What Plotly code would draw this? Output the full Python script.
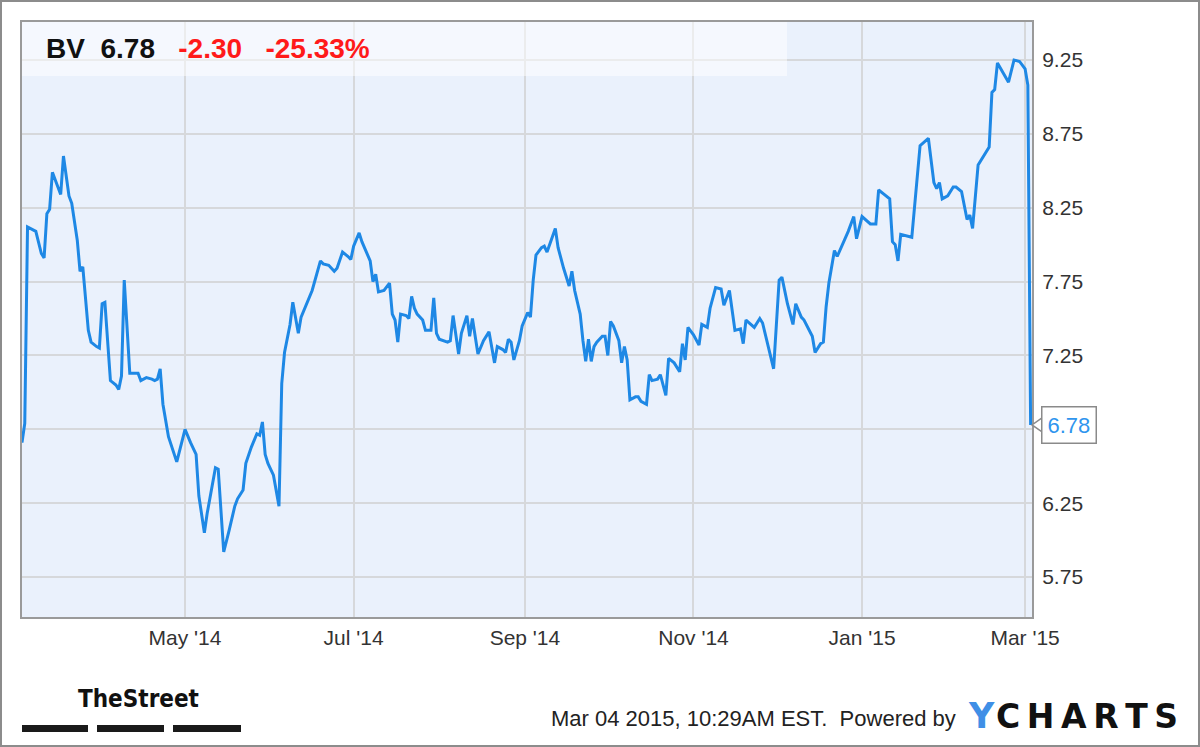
import plotly.graph_objects as go

# BV daily close (Mar 2014 - Mar 2015)
dates = [
    "2014-03-03", "2014-03-04", "2014-03-05", "2014-03-07", "2014-03-08", "2014-03-10", "2014-03-11",
    "2014-03-12", "2014-03-13", "2014-03-14", "2014-03-16", "2014-03-17", "2014-03-18", "2014-03-20",
    "2014-03-21", "2014-03-23", "2014-03-24", "2014-03-25", "2014-03-27", "2014-03-28", "2014-03-30",
    "2014-03-31", "2014-04-01", "2014-04-02", "2014-04-04", "2014-04-06", "2014-04-07", "2014-04-08",
    "2014-04-09", "2014-04-11", "2014-04-12", "2014-04-14", "2014-04-15", "2014-04-17", "2014-04-19",
    "2014-04-20", "2014-04-21", "2014-04-22", "2014-04-23", "2014-04-25", "2014-04-28", "2014-04-30",
    "2014-05-01", "2014-05-03", "2014-05-05", "2014-05-06", "2014-05-08", "2014-05-09", "2014-05-12",
    "2014-05-13", "2014-05-14", "2014-05-15", "2014-05-17", "2014-05-19", "2014-05-20", "2014-05-22",
    "2014-05-23", "2014-05-25", "2014-05-27", "2014-05-28", "2014-05-29", "2014-05-30", "2014-05-31",
    "2014-06-02", "2014-06-04", "2014-06-05", "2014-06-06", "2014-06-08", "2014-06-09", "2014-06-11",
    "2014-06-12", "2014-06-14", "2014-06-16", "2014-06-19", "2014-06-20", "2014-06-22", "2014-06-24",
    "2014-06-25", "2014-06-27", "2014-06-29", "2014-06-30", "2014-07-01", "2014-07-03", "2014-07-04",
    "2014-07-07", "2014-07-08", "2014-07-09", "2014-07-10", "2014-07-12", "2014-07-14", "2014-07-15",
    "2014-07-16", "2014-07-17", "2014-07-18", "2014-07-20", "2014-07-21", "2014-07-22", "2014-07-23",
    "2014-07-24", "2014-07-26", "2014-07-27", "2014-07-29", "2014-07-30", "2014-07-31", "2014-08-01",
    "2014-08-04", "2014-08-05", "2014-08-06", "2014-08-08", "2014-08-09", "2014-08-11", "2014-08-12",
    "2014-08-13", "2014-08-15", "2014-08-17", "2014-08-19", "2014-08-21", "2014-08-22", "2014-08-24",
    "2014-08-25", "2014-08-26", "2014-08-27", "2014-08-28", "2014-08-30", "2014-08-31", "2014-09-02",
    "2014-09-03", "2014-09-04", "2014-09-05", "2014-09-07", "2014-09-08", "2014-09-09", "2014-09-11",
    "2014-09-12", "2014-09-13", "2014-09-15", "2014-09-17", "2014-09-18", "2014-09-19", "2014-09-21",
    "2014-09-22", "2014-09-23", "2014-09-24", "2014-09-25", "2014-09-26", "2014-09-27", "2014-09-29",
    "2014-09-30", "2014-10-01", "2014-10-02", "2014-10-03", "2014-10-05", "2014-10-06", "2014-10-07",
    "2014-10-08", "2014-10-09", "2014-10-11", "2014-10-12", "2014-10-13", "2014-10-15", "2014-10-16",
    "2014-10-17", "2014-10-19", "2014-10-20", "2014-10-22", "2014-10-23", "2014-10-25", "2014-10-27",
    "2014-10-28", "2014-10-29", "2014-10-30", "2014-11-01", "2014-11-03", "2014-11-04", "2014-11-06",
    "2014-11-07", "2014-11-09", "2014-11-11", "2014-11-12", "2014-11-14", "2014-11-16", "2014-11-18",
    "2014-11-19", "2014-11-20", "2014-11-23", "2014-11-25", "2014-11-26", "2014-11-30", "2014-12-02",
    "2014-12-03", "2014-12-05", "2014-12-07", "2014-12-08", "2014-12-10", "2014-12-11", "2014-12-14",
    "2014-12-15", "2014-12-17", "2014-12-18", "2014-12-19", "2014-12-20", "2014-12-22", "2014-12-23",
    "2014-12-25", "2014-12-27", "2014-12-29", "2014-12-30", "2015-01-01", "2015-01-04", "2015-01-06",
    "2015-01-07", "2015-01-09", "2015-01-11", "2015-01-12", "2015-01-13", "2015-01-14", "2015-01-15",
    "2015-01-19", "2015-01-22", "2015-01-25", "2015-01-27", "2015-01-28", "2015-01-29", "2015-01-30",
    "2015-02-01", "2015-02-03", "2015-02-04", "2015-02-06", "2015-02-08", "2015-02-09", "2015-02-10",
    "2015-02-12", "2015-02-14", "2015-02-16", "2015-02-17", "2015-02-18", "2015-02-19", "2015-02-23",
    "2015-02-25", "2015-02-27", "2015-03-01", "2015-03-02", "2015-03-03",
]
prices = [
    6.66, 6.79, 8.12, 8.10, 8.09, 7.94, 7.91,
    8.21, 8.24, 8.49, 8.39, 8.34, 8.60, 8.33,
    8.28, 8.03, 7.82, 7.85, 7.42, 7.34, 7.31,
    7.30, 7.60, 7.61, 7.08, 7.05, 7.02, 7.11,
    7.76, 7.13, 7.13, 7.13, 7.08, 7.10, 7.09,
    7.08, 7.09, 7.16, 6.92, 6.70, 6.53, 6.69,
    6.75, 6.66, 6.58, 6.30, 6.05, 6.18, 6.49,
    6.48, 6.18, 5.92, 6.07, 6.23, 6.28, 6.34,
    6.52, 6.63, 6.72, 6.71, 6.80, 6.58, 6.52,
    6.44, 6.23, 7.06, 7.27, 7.46, 7.61, 7.40,
    7.51, 7.60, 7.69, 7.89, 7.87, 7.86, 7.82,
    7.84, 7.95, 7.92, 7.90, 7.99, 8.08, 8.02,
    7.89, 7.75, 7.80, 7.68, 7.69, 7.74, 7.53,
    7.49, 7.34, 7.53, 7.52, 7.50, 7.65, 7.57,
    7.53, 7.49, 7.42, 7.42, 7.64, 7.40, 7.36,
    7.34, 7.35, 7.52, 7.26, 7.40, 7.52, 7.38,
    7.50, 7.26, 7.35, 7.41, 7.20, 7.31, 7.29,
    7.27, 7.36, 7.34, 7.22, 7.35, 7.45, 7.54,
    7.51, 7.76, 7.93, 7.98, 7.99, 7.95, 8.05,
    8.11, 7.98, 7.84, 7.72, 7.82, 7.69, 7.53,
    7.35, 7.21, 7.36, 7.21, 7.31, 7.34, 7.38,
    7.38, 7.25, 7.48, 7.45, 7.35, 7.20, 7.31,
    7.22, 6.95, 6.97, 6.97, 6.94, 6.92, 7.12,
    7.08, 7.09, 7.12, 6.98, 7.23, 7.20, 7.14,
    7.33, 7.22, 7.44, 7.39, 7.32, 7.46, 7.44,
    7.57, 7.71, 7.70, 7.59, 7.69, 7.42, 7.43,
    7.33, 7.49, 7.44, 7.50, 7.47, 7.16, 7.76,
    7.78, 7.60, 7.46, 7.60, 7.51, 7.49, 7.38,
    7.27, 7.33, 7.34, 7.58, 7.74, 7.96, 7.92,
    8.00, 8.09, 8.19, 8.04, 8.19, 8.14, 8.14,
    8.37, 8.34, 8.31, 8.02, 8.00, 7.89, 8.07,
    8.05, 8.67, 8.72, 8.42, 8.38, 8.42, 8.31,
    8.33, 8.39, 8.39, 8.36, 8.17, 8.20, 8.11,
    8.54, 8.60, 8.66, 9.03, 9.05, 9.23, 9.10,
    9.25, 9.24, 9.19, 9.08, 6.78,
]

ticker = "BV"
last_price = 6.78
change = "-2.30"
change_pct = "-25.33%"
stamp = "Mar 04 2015, 10:29AM EST.  Powered by"

ytick_vals = [5.75, 6.25, 6.75, 7.25, 7.75, 8.25, 8.75, 9.25]
ytick_text = ["5.75", "6.25", "", "7.25", "7.75", "8.25", "8.75", "9.25"]
xtick_vals = ["2014-05-01", "2014-07-01", "2014-09-01", "2014-11-01", "2015-01-01", "2015-03-01"]
xtick_text = ["May '14", "Jul '14", "Sep '14", "Nov '14", "Jan '15", "Mar '15"]

W, H = 1200, 747
L, R, T, B = 22, 168, 22, 130
pw, ph = W - L - R, H - T - B

# pixel -> paper helpers for the decorations
def px(x):
    return (x - L) / pw

def py(y):
    return (H - B - y) / ph

blue = "#1e88e5"
font = "Liberation Sans, Arial, sans-serif"

fig = go.Figure()
fig.add_trace(go.Scatter(x=dates, y=prices, mode="lines",
                         line=dict(color=blue, width=3), hoverinfo="x+y"))

annotations = [
    dict(xref="paper", yref="paper", x=px(44), y=py(49), xanchor="left", yanchor="middle",
         showarrow=False,
         text="<b>" + ticker + "&nbsp;&nbsp;" + str(last_price) + "&nbsp;&nbsp;&nbsp;"
              + "<span style='color:#ff1a1a'>" + change + "&nbsp;&nbsp;&nbsp;" + change_pct + "</span></b>",
         font=dict(family=font, size=28, color="#111")),
    dict(xref="paper", yref="y", x=px(1041), y=last_price, xanchor="left", yanchor="middle",
         showarrow=False, text=str(last_price), bgcolor="white", bordercolor="#8a8a8a",
         borderwidth=1.5, borderpad=5, font=dict(family=font, size=22, color="#2f95ee")),
    dict(xref="paper", yref="paper", x=px(76), y=py(699), xanchor="left", yanchor="middle",
         showarrow=False, text="<b>TheStreet</b>",
         font=dict(family="Liberation Sans Narrow, DejaVu Sans Condensed, Liberation Sans, sans-serif",
                   size=24, color="#111")),
    dict(xref="paper", yref="paper", x=px(958), y=py(718), xanchor="right", yanchor="middle",
         showarrow=False, text=stamp, font=dict(family=font, size=22, color="#222")),
    dict(xref="paper", yref="paper", x=px(966), y=py(716), xanchor="left", yanchor="middle",
         showarrow=False, text="<b>Y</b>", font=dict(family="DejaVu Sans, sans-serif", size=35, color="#3f8fe6")),
    dict(xref="paper", yref="paper", x=px(1180), y=py(716), xanchor="right", yanchor="middle",
         showarrow=False, text="<b>C\u2009H\u2009A\u2009R\u2009T\u2009S</b>",
         font=dict(family="DejaVu Sans, sans-serif", size=33, color="#111")),
]

shapes = [
    # translucent header band
    dict(type="rect", xref="paper", yref="paper", x0=0, x1=px(787), y0=py(76), y1=1,
         fillcolor="rgba(255,255,255,0.5)", line=dict(width=0), layer="above"),
    # notch of the last-price label
    dict(type="path", xref="paper", yref="y", xsizemode="pixel", ysizemode="pixel",
         xanchor=px(1031), yanchor=last_price,
         path="M 11,7 L 1,0 L 11,-7 Z", fillcolor="white", line=dict(color="#8a8a8a", width=1.5)),
    # outer frame
    dict(type="rect", xref="paper", yref="paper", x0=px(1), x1=px(W - 1), y0=py(H - 1), y1=py(1),
         line=dict(color="#8c8c8c", width=2), fillcolor="rgba(0,0,0,0)"),
]
# TheStreet underline bars
for x0, x1 in [(22, 88), (97, 164), (173, 241)]:
    shapes.append(dict(type="rect", xref="paper", yref="paper", x0=px(x0), x1=px(x1),
                       y0=py(732), y1=py(725), fillcolor="#1a1a1a", line=dict(width=0)))

fig.update_layout(
    width=W, height=H,
    margin=dict(l=L, r=R, t=T, b=B),
    paper_bgcolor="white",
    plot_bgcolor="#eaf1fc",
    showlegend=False,
    annotations=annotations,
    shapes=shapes,
    xaxis=dict(range=["2014-03-03", "2015-03-03 12:00"], tickvals=xtick_vals, ticktext=xtick_text,
               showgrid=True, gridcolor="#d6d8db", gridwidth=1.5, zeroline=False,
               showline=True, linecolor="#9a9a9a", linewidth=2, mirror=True,
               ticks="", ticklabelstandoff=1,
               tickfont=dict(family=font, size=21, color="#333")),
    yaxis=dict(side="right", range=[5.48, 9.507], tickvals=ytick_vals, ticktext=ytick_text,
               showgrid=True, gridcolor="#d6d8db", gridwidth=1.5, zeroline=False,
               showline=True, linecolor="#9a9a9a", linewidth=2, mirror=True,
               ticks="", ticklabelstandoff=4,
               tickfont=dict(family=font, size=21, color="#333")),
)

# page body margin off so the figure sits at the window's corner
fig.write_html("out.html", config={"displayModeBar": False},
               post_script="document.body.style.margin='0';")
